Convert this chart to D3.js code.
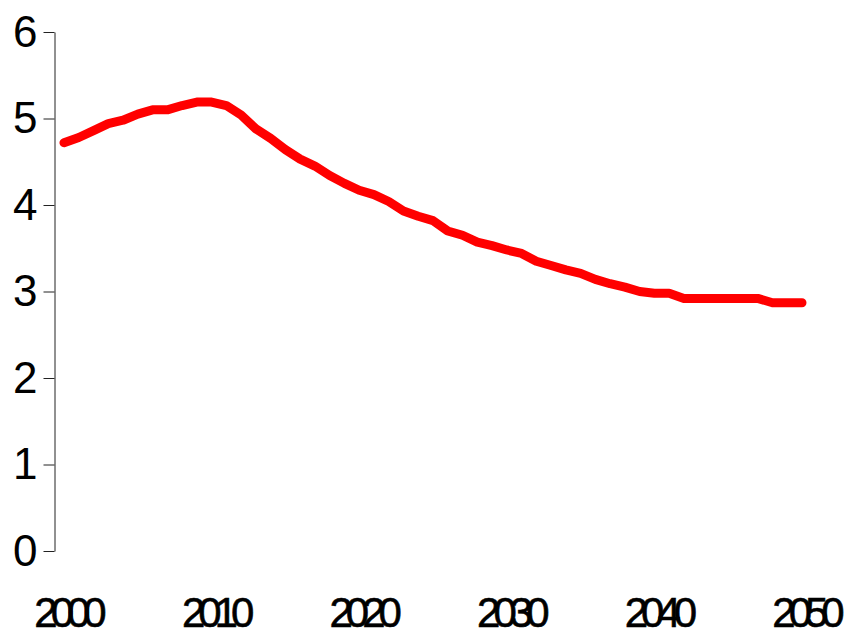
<!DOCTYPE html>
<meta charset="utf-8">
<html>
<head>
<style>
  body { margin: 0; background: #fff; }
  .domain { stroke: #222; }
  .tick line { stroke: #222; }
</style>
<script src="https://d3js.org/d3.v7.min.js"></script>
</head>
<body>
<svg width="846" height="631"></svg>
<script>

// values, one per year
var years = d3.range(2000, 2051);
var values = [4.72, 4.78, 4.86, 4.94, 4.98, 5.05, 5.10, 5.10, 5.15, 5.19,
              5.19, 5.15, 5.04, 4.88, 4.77, 4.64, 4.53, 4.45, 4.34, 4.25,
              4.17, 4.12, 4.04, 3.93, 3.87, 3.82, 3.70, 3.65, 3.57, 3.53,
              3.48, 3.44, 3.35, 3.30, 3.25, 3.21, 3.14, 3.09, 3.05, 3.00,
              2.98, 2.98, 2.92, 2.92, 2.92, 2.92, 2.92, 2.92, 2.87, 2.87,
              2.87];
var yTicks = [0, 1, 2, 3, 4, 5, 6];
var xTicks = [2000, 2010, 2020, 2030, 2040, 2050];

var svg = d3.select("svg");

var x = d3.scaleLinear()
    .domain([2000, 2050])
    .range([64, 802]);

var y = d3.scaleLinear()
    .domain([0, 6])
    .range([551, 32]);

// y axis
svg.append("g")
    .attr("transform", "translate(54.5,0)")
    .call(d3.axisLeft(y).tickValues(yTicks).tickFormat(d3.format("d"))
        .tickSize(11).tickSizeOuter(0).tickPadding(6))
    .call(function(g) {
        g.selectAll("text")
            .attr("font-family", "Liberation Sans, Arial, sans-serif")
            .attr("font-size", 44)
            .attr("fill", "#000");
    });

// x labels, no axis line
svg.append("g")
    .selectAll("text")
    .data(xTicks)
    .enter().append("text")
    .attr("x", function(d) { return x(d) + 3; })
    .attr("y", 627)
    .attr("text-anchor", "middle")
    .attr("font-family", "Liberation Sans, Arial, sans-serif")
    .attr("font-size", 42)
    .attr("letter-spacing", "-7px")
    .attr("fill", "#000")
    .attr("stroke", "#000")
    .attr("stroke-width", 0.6)
    .text(function(d) { return d; });

var line = d3.line()
    .x(function(d, i) { return x(years[i]); })
    .y(function(d) { return y(d); });

svg.append("path")
    .datum(values)
    .attr("fill", "none")
    .attr("stroke", "#ff0000")
    .attr("stroke-width", 9)
    .attr("stroke-linejoin", "round")
    .attr("stroke-linecap", "round")
    .attr("d", line);

</script>
</body>
</html>
